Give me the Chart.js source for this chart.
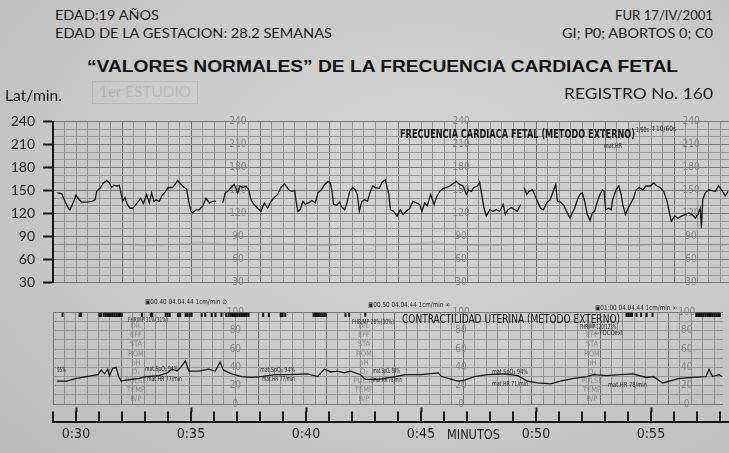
<!DOCTYPE html>
<html>
<head>
<meta charset="utf-8">
<script src="https://cdn.jsdelivr.net/npm/chart.js@4.4.1/dist/chart.umd.min.js"></script>
<style>
html, body { margin: 0; padding: 0; }
body {
  width: 729px; height: 453px; overflow: hidden; position: relative;
  background: radial-gradient(ellipse 75% 85% at 58% 40%, #d4d4d4 0%, #cbcbcb 55%, #bcbcbc 100%);
}
canvas { position: absolute; left: 0; }
.t { position: absolute; white-space: nowrap; transform-origin: 0 50%; color: #1b1b1b; line-height: 1; z-index: 5; }
.hd { font-family: Lato, sans-serif; font-size: 13px; }
.big { font-family: Lato, sans-serif; font-size: 15px; }
.ttl { font-family: "Liberation Sans", Arial, sans-serif; font-weight: bold; font-size: 16.5px; color: #121212; }
.lab { font-family: "Liberation Sans Narrow", "Arial Narrow", "DejaVu Sans Condensed", sans-serif; font-size: 11.5px; color: #151515; }
.b { font-weight: bold; }
.tiny { font-family: "Liberation Sans Narrow", "Arial Narrow", "DejaVu Sans Condensed", sans-serif; font-size: 7px; color: #262626; }
.axl { font-family: "Liberation Sans Narrow", "Arial Narrow", "DejaVu Sans Condensed", sans-serif; font-size: 14px; color: #1a1a1a; }
.ghost { color: rgba(0,0,0,0.09); }
#estudio { position: absolute; left: 92px; top: 81px; width: 104px; height: 21px; border: 1px solid rgba(0,0,0,0.07); }
</style>
</head>
<body>
<div id="estudio"></div>
<canvas id="fhr" width="729" height="200" style="top:100px"></canvas>
<canvas id="toco" width="729" height="110" style="top:300px"></canvas>
<canvas id="time" width="729" height="53" style="top:400px"></canvas>
<script>
// minutos del registro (eje x) y latidos por minuto
const fhrMinutes = [29.19,29.38,29.52,29.67,29.74,29.86,30.00,30.14,30.25,30.47,30.68,30.83,30.90,31.04,31.19,31.33,31.45,31.55,31.65,31.77,31.88,31.94,32.03,32.13,32.23,32.35,32.47,32.61,32.71,32.81,32.93,33.07,33.19,33.29,33.39,33.48,33.62,33.73,33.87,34.01,34.20,34.35,34.42,34.57,34.71,34.81,34.90,35.00,35.07,35.22,35.36,35.51,35.65,35.80,35.94,36.09,36.23,36.38,36.49,36.60,36.74,36.88,37.03,37.13,37.25,37.39,37.51,37.61,37.71,37.90,38.04,38.19,38.33,38.48,38.62,38.77,38.91,39.06,39.25,39.39,39.51,39.57,39.65,39.75,39.86,39.97,40.12,40.26,40.40,40.52,40.67,40.81,40.96,41.06,41.13,41.20,41.35,41.45,41.57,41.68,41.78,41.90,42.03,42.14,42.23,42.32,42.43,42.55,42.67,42.80,42.90,43.01,43.19,43.30,43.45,43.60,43.67,43.81,43.96,44.10,44.22,44.36,44.51,44.65,44.80,44.94,45.04,45.16,45.27,45.42,45.57,45.67,45.81,45.96,46.10,46.25,46.39,46.53,46.68,46.83,46.97,47.07,47.19,47.30,47.45,47.55,47.65,47.74,47.84,47.99,48.13,48.27,48.42,48.57,48.67,48.78,48.93,49.07,49.19,49.33,49.39,49.48,49.60,49.70,49.84,49.94,50.06,50.20,50.32,50.47,50.61,50.75,50.86,50.93,51.07,51.22,51.36,51.48,51.58,51.68,51.80,51.91,52.01,52.12,52.23,52.35,52.45,52.55,52.67,52.78,52.88,52.96,53.03,53.17,53.27,53.33,53.48,53.60,53.70,53.77,53.89,54.00,54.10,54.25,54.35,54.49,54.64,54.78,54.97,55.12,55.26,55.40,55.55,55.70,55.80,55.88,56.03,56.17,56.35,56.49,56.64,56.78,56.93,57.04,57.14,57.19,57.25,57.36,57.51,57.65,57.80,57.94,58.09,58.23,58.35];
const fhrBpm = [147,146,136,127,125,133,144,138,135,135,136,138,149,153,160,163,160,154,157,156,157,149,136,141,132,127,127,132,136,140,133,145,134,147,136,138,136,143,148,154,154,160,163,158,154,152,136,123,121,125,125,130,140,134,136,136,null,134,147,149,154,158,147,156,154,156,151,138,133,127,123,134,127,136,141,145,154,159,151,149,150,136,123,125,136,132,134,137,134,147,151,158,162,160,149,132,131,135,128,125,134,149,154,151,145,123,136,138,136,149,156,154,153,161,164,145,125,123,117,125,119,123,127,136,134,132,123,134,130,145,132,141,149,153,154,156,159,162,158,156,145,151,149,154,156,161,143,127,117,125,123,125,123,132,119,125,128,125,123,132,null,154,145,149,151,145,136,127,125,134,138,149,158,136,135,130,121,114,121,127,138,145,147,136,119,111,121,123,136,145,151,149,125,127,125,138,151,156,145,132,119,127,132,141,151,154,151,156,156,160,156,154,149,136,121,110,117,114,117,119,121,119,114,119,127,101,138,147,151,150,149,156,150,143,149];

// trazo tenue de frecuencia materna en el papel superior
const maternalMinutes = [29.2,30.5,31.8,33.0,34.3,35.5,36.8,38.0,39.3,40.5,41.8,43.0,44.3,45.5,46.8,48.0,49.3,50.5,51.8,53.0,54.3,55.5,56.8,58.3];
const maternalBpm = [80,79,81,78,80,82,79,80,81,78,80,79,80,82,79,78,80,81,79,80,78,81,80,79];

// contractilidad uterina (0-100)
const tocoMinutes = [29.16,29.60,30.03,30.47,30.97,31.12,31.26,31.40,31.48,31.62,31.77,31.88,31.99,32.20,32.78,33.07,33.65,34.01,34.23,34.45,34.60,34.81,34.96,35.39,35.83,36.12,36.33,36.48,36.84,37.27,37.71,38.14,38.73,39.30,40.17,40.61,40.90,41.19,41.48,41.77,42.06,42.49,42.70,43.29,44.01,44.45,45.17,45.90,46.04,46.33,46.77,47.06,47.49,48.07,48.80,49.38,49.81,50.25,50.83,51.26,51.84,52.42,52.71,53.29,53.87,54.45,55.03,55.32,55.75,56.04,56.48,57.06,57.64,57.78,57.93,58.22,58.35];
const tocoValues = [25,25,28,30,32,37,33,38,31,39,40,30,25,26,28,30,31,34,38,36,40,47,36,36,38,36,46,37,33,30,29,30,32,32,33,30,38,35,36,34,36,32,27,27,30,32,32,34,30,28,25,26,30,32,33,31,25,23,22,25,28,30,32,31,32,33,29,30,23,25,28,29,30,38,30,32,30];

// marcas de eventos en el borde superior del papel inferior
const eventMinutes = [29.42,30.17,30.22,31.04,31.10,31.22,31.30,31.38,31.46,31.54,31.62,31.70,31.78,31.86,31.94,32.02,32.90,33.29,33.35,33.94,34.03,34.12,34.48,34.58,34.82,34.90,35.00,35.08,35.52,35.68,35.96,36.13,36.39,36.60,36.70,36.78,36.86,36.94,37.02,37.10,37.18,37.26,37.34,37.42,37.50,37.58,38.22,38.47,38.99,39.07,39.19,40.43,40.50,40.58,40.66,40.74,40.82,40.90,40.98,41.83,41.99,42.70,54.16,54.24,54.32,54.40,54.60,54.80,55.04,55.30,57.22,57.30,57.38,57.46,57.54,57.62,57.70,57.78,57.86,57.94,58.02,58.10,58.18,58.26];

// etiquetas
const fhrScaleValues = [30,60,90,120,150,180,210,240];
const fhrPaperColumns = [37.04,46.74,56.74];
const tocoScaleValues = [0,20,40,60,80,100];
const tocoPaperColumns = [37.0,46.9,56.8];
const tocoSideColumns = [32.64,42.64,52.64];
const tocoSideLabels = ['DIL','EFF','STA','ROM','pH','O₂','PULSE','TEMP','B/P'];
const tocoSideValues = [85,75,65,55,45,35,25,15,5];
const timeMinutes = [30,35,40,45,50,55];
const timeLabels = ['0:30','0:35','0:40','0:45','0:50','0:55'];

const xMin = 29, xMax = 29 + 676 / 23;
const NARROW = '"Liberation Sans Narrow", "Arial Narrow", "DejaVu Sans Condensed", sans-serif';

const paperText = {
  id: 'paperText',
  beforeDatasetsDraw(chart, args, opts) {
    if (!opts.rows) return;
    const ctx = chart.ctx, x = chart.scales.x, y = chart.scales.y;
    ctx.save();
    ctx.font = opts.font;
    ctx.fillStyle = opts.color;
    ctx.textAlign = 'center';
    ctx.textBaseline = 'middle';
    opts.columns.forEach(c => {
      opts.rows.forEach((v, i) => {
        ctx.fillText(opts.texts ? opts.texts[i] : String(v), x.getPixelForValue(c), y.getPixelForValue(v));
      });
    });
    ctx.restore();
  }
};

function isMajor(v) {
  const r = (v - xMin) % 3;
  return Math.abs(r) < 1e-6 || Math.abs(r - 3) < 1e-6;
}

function paperX() {
  return {
    type: 'linear', min: xMin, max: xMax,
    ticks: { display: false, stepSize: 0.5, includeBounds: false },
    grid: { drawTicks: false, lineWidth: 1, color: c => isMajor(c.tick.value) ? '#6f6f6f' : '#919191' },
    border: { display: false }
  };
}

new Chart(document.getElementById('fhr'), {
  type: 'line',
  data: {
    datasets: [
      { data: fhrMinutes.map((m, i) => ({ x: m, y: fhrBpm[i] })), borderColor: '#161616', borderWidth: 1.3, pointRadius: 0, spanGaps: false },
      { data: maternalMinutes.map((m, i) => ({ x: m, y: maternalBpm[i] })), borderColor: 'rgba(95,95,95,0.35)', borderWidth: 1, pointRadius: 0 }
    ]
  },
  options: {
    responsive: false, animation: false, devicePixelRatio: 1,
    layout: { padding: { top: 21.5, bottom: 17.3, left: 0, right: 0 } },
    plugins: {
      legend: { display: false }, tooltip: { enabled: false },
      paperText: { columns: fhrPaperColumns, rows: fhrScaleValues, font: '10px ' + NARROW, color: '#868686' }
    },
    scales: {
      x: paperX(),
      y: {
        min: 30, max: 240,
        ticks: {
          stepSize: 10, autoSkip: false, padding: 8, color: '#1c1c1c',
          font: { family: 'Lato, sans-serif', size: 14 },
          callback: v => fhrScaleValues.includes(v) ? v : ''
        },
        grid: {
          lineWidth: 1, tickLength: 10, tickWidth: 2,
          color: c => c.tick.value % 30 === 0 ? '#777' : '#989898',
          tickColor: c => c.tick.value % 30 === 0 ? '#151515' : 'rgba(0,0,0,0)'
        },
        border: { display: true, color: '#151515', width: 2 },
        afterFit: s => { s.width = 53; }
      }
    }
  },
  plugins: [paperText]
});

new Chart(document.getElementById('toco'), {
  type: 'line',
  data: {
    datasets: [
      { data: tocoMinutes.map((m, i) => ({ x: m, y: tocoValues[i] })), borderColor: '#161616', borderWidth: 1.3, pointRadius: 0 },
      { data: eventMinutes.map(m => ({ x: m, y: 97.6 })), showLine: false, pointStyle: 'line', rotation: 90, pointRadius: 2.3, borderWidth: 2, borderColor: '#101010' }
    ]
  },
  options: {
    responsive: false, animation: false, devicePixelRatio: 1,
    layout: { padding: { top: 12.5, bottom: 5, left: 53, right: 0 } },
    plugins: {
      legend: { display: false }, tooltip: { enabled: false },
      paperText: { columns: tocoPaperColumns, rows: tocoScaleValues, font: '10px ' + NARROW, color: '#868686' }
    },
    scales: {
      x: paperX(),
      y: {
        min: 0, max: 100,
        ticks: { display: false, stepSize: 10 },
        grid: { drawTicks: false, lineWidth: 1, color: c => (c.tick.value === 0 || c.tick.value === 100) ? '#777' : '#969696' },
        border: { display: false }
      }
    }
  },
  plugins: [paperText, {
    id: 'sideLabels',
    beforeDatasetsDraw(chart) {
      const ctx = chart.ctx, x = chart.scales.x, y = chart.scales.y;
      ctx.save();
      ctx.font = '7.5px ' + NARROW;
      ctx.fillStyle = '#8a8a8a';
      ctx.textAlign = 'center';
      ctx.textBaseline = 'middle';
      tocoSideColumns.forEach(c => tocoSideLabels.forEach((t, i) => ctx.fillText(t, x.getPixelForValue(c), y.getPixelForValue(tocoSideValues[i]))));
      ctx.restore();
    }
  }]
});

new Chart(document.getElementById('time'), {
  type: 'line',
  data: { datasets: [] },
  options: {
    responsive: false, animation: false, devicePixelRatio: 1,
    layout: { padding: { top: 7.5, bottom: 0, left: 53, right: 0 } },
    plugins: { legend: { display: false }, tooltip: { enabled: false } },
    scales: {
      x: {
        type: 'linear', position: 'bottom', min: xMin, max: xMax,
        ticks: {
          stepSize: 1, includeBounds: false, autoSkip: false, maxRotation: 0, padding: 4,
          color: '#1a1a1a', font: { family: NARROW, size: 14 },
          callback: v => { const i = timeMinutes.indexOf(v); return i >= 0 ? timeLabels[i] : ''; }
        },
        grid: { drawTicks: false, lineWidth: 2, color: '#1a1a1a' },
        border: { display: true, color: '#151515', width: 2 },
        afterFit: s => { s.height = 31.3; }
      },
      x2: {
        type: 'linear', position: 'top', min: xMin, max: xMax,
        ticks: { display: false, stepSize: 5, includeBounds: false },
        grid: { drawOnChartArea: false, drawTicks: true, tickLength: 4, tickWidth: 2, tickColor: '#1a1a1a' },
        border: { display: false },
        afterFit: s => { s.height = 4; }
      },
      y: { display: false, min: 0, max: 1 }
    }
  }
});

// textos impresos en la hoja
const texts = [
  ['EDAD:19 AÑOS', 55, 15, 104, 'hd'],
  ['EDAD DE LA GESTACION: 28.2 SEMANAS', 55, 33.3, 277, 'hd'],
  ['FUR 17/IV/2001', 615, 15, 98, 'hd'],
  ['GI; P0; ABORTOS 0; C0', 562, 33.3, 151, 'hd'],
  ['“VALORES NORMALES” DE LA FRECUENCIA CARDIACA FETAL', 87, 66.5, 591, 'ttl'],
  ['Lat/min.', 5, 95, 57, 'big'],
  ['1er ESTUDIO', 99, 91.5, 92, 'big ghost'],
  ['REGISTRO No. 160', 564, 93.3, 149, 'big'],
  ['FRECUENCIA CARDIACA FETAL (METODO EXTERNO)', 400, 135, 235, 'lab b'],
  ['1/60s', 636, 130, 13, 'tiny'],
  ['↕10/60s', 651, 129.5, 25, 'tiny'],
  ['mat.HR', 604, 146, 18, 'tiny'],
  ['CONTRACTILIDAD UTERINA (METODO EXTERNO)', 402, 320, 218, 'lab'],
  ['▣00.40   04.04.44   1cm/min   ⊙', 145, 302.5, 82, 'tiny'],
  ['▣00.50   04.04.44   1cm/min   ∞', 368, 305, 82, 'tiny'],
  ['▣01:00   04.04.44   1cm/min   ∞', 595, 308, 82, 'tiny'],
  ['FHR/MP  31%(31%)', 128, 320, 40, 'tiny'],
  ['FHR/MP  28%(30%)', 352, 322, 42, 'tiny'],
  ['FHR/MP  120(123%)', 580, 327, 38, 'tiny'],
  ['—TOCOext', 594, 333, 29, 'tiny'],
  ['95%', 57, 370.7, 9, 'tiny'],
  ['mat.SpO₂  94%', 145, 369, 33, 'tiny'],
  ['mat.HR  77/min', 147, 379, 35, 'tiny'],
  ['mat.SpO₂  94%', 260, 370, 35, 'tiny'],
  ['mat.HR  77/min', 262, 379, 33, 'tiny'],
  ['mat.SpO₂  94%', 373, 371, 27, 'tiny'],
  ['mat.HR  78/min', 373, 380, 29, 'tiny'],
  ['mat.SpO₂  94%', 492, 372.7, 36, 'tiny'],
  ['mat.HR  71/min', 492, 384, 36, 'tiny'],
  ['mat.HR  78/min', 608, 385.7, 39, 'tiny'],
  ['MINUTOS', 447, 434, 53, 'axl']
];
texts.forEach(([s, x, cy, w, cls]) => {
  const el = document.createElement('div');
  el.className = 't ' + cls;
  el.textContent = s;
  document.body.appendChild(el);
  const size = parseFloat(getComputedStyle(el).fontSize);
  el.style.left = x + 'px';
  el.style.top = (cy - size / 2) + 'px';
  el.dataset.w = w;
});
function fitTexts() {
  document.querySelectorAll('.t').forEach(el => {
    el.style.transform = 'none';
    const nat = el.getBoundingClientRect().width;
    if (nat > 0) el.style.transform = 'scaleX(' + (el.dataset.w / nat) + ')';
  });
}
fitTexts();
document.fonts.ready.then(fitTexts);
</script>
</body>
</html>
